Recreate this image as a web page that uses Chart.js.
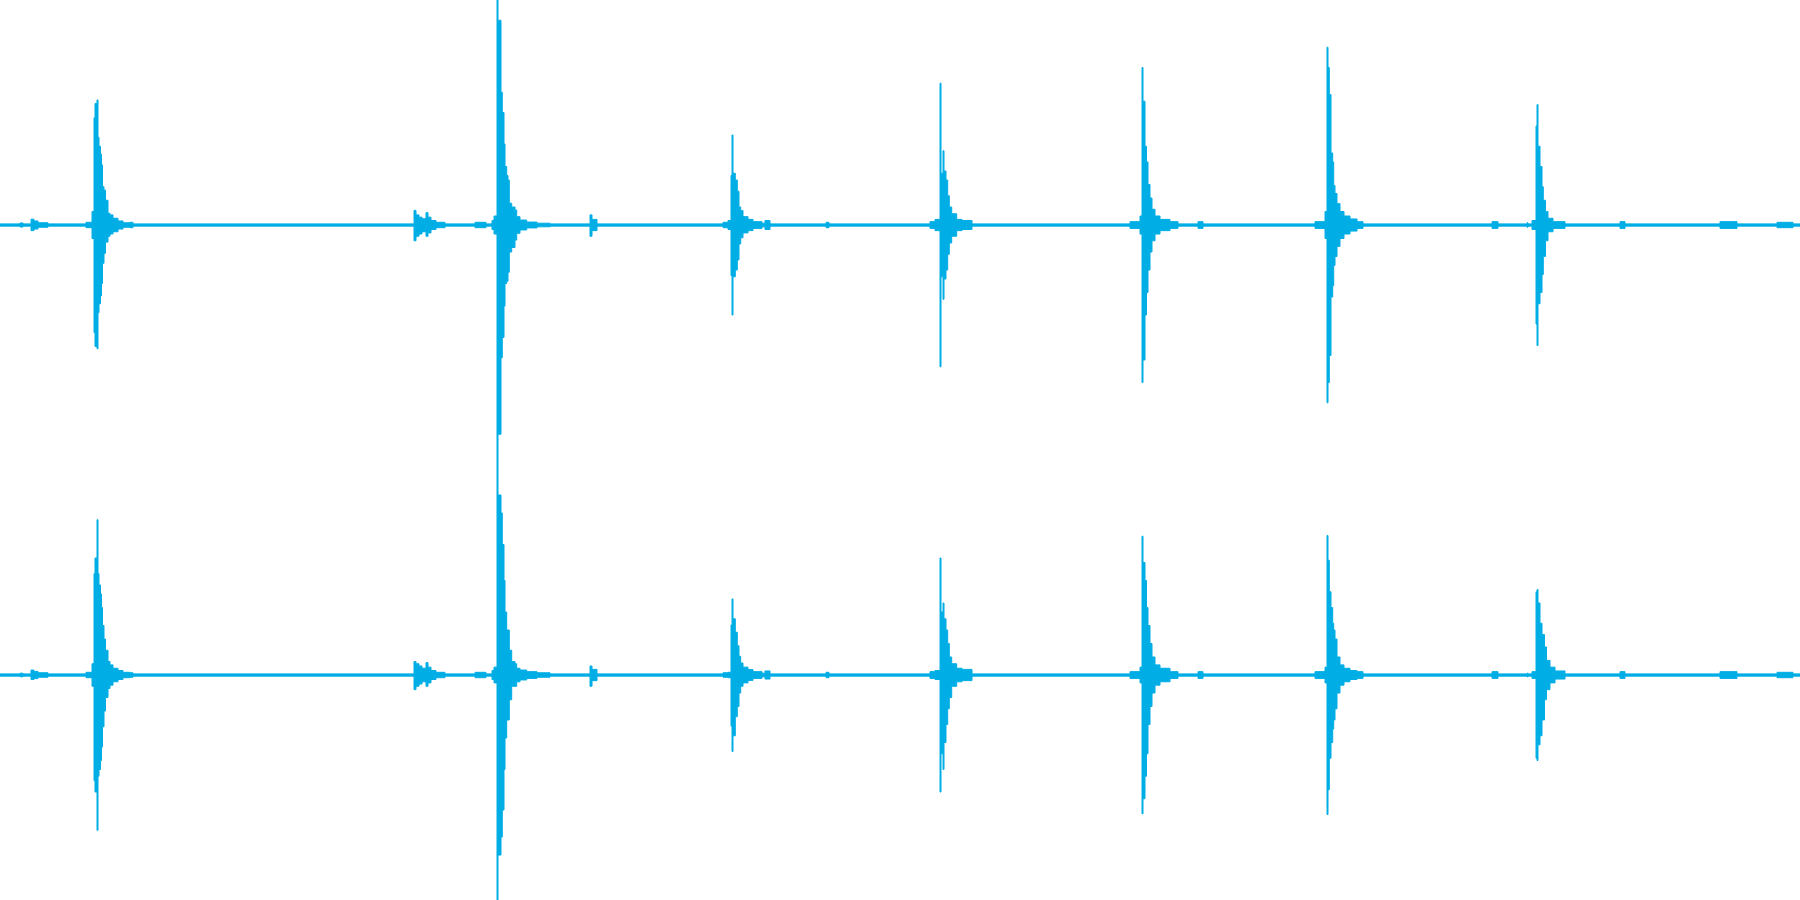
<!DOCTYPE html>
<html>
<head>
<meta charset="utf-8">
<script src="https://cdn.jsdelivr.net/npm/chart.js@4"></script>
<style>
  html, body { margin: 0; padding: 0; background: #ffffff; }
  .ch { position: absolute; left: 0; width: 1800px; height: 450px; }
  #wrapL { top: 0; }
  #wrapR { top: 450px; }
</style>
</head>
<body>
<div class="ch" id="wrapL"><canvas id="left" width="1800" height="450"></canvas></div>
<div class="ch" id="wrapR"><canvas id="right" width="1800" height="450"></canvas></div>
<script>
// Sample position (one unit per pixel column of the rendered waveform)
const position = [
  0, 20, 23, 31, 34, 38, 48,
  86, 92, 94, 95, 97, 98, 99, 100.5, 101.5, 102.5, 104, 105.5, 108, 110, 113, 118, 123, 130, 133,
  414, 416, 419, 422, 426, 428, 431, 436, 445, 475, 486,
  492, 494, 497, 498, 501, 502.3, 504, 505, 506.7, 508, 509.3, 511.7, 515, 516.7, 520, 526.7, 537, 550,
  590, 592, 597,
  723, 728, 731, 732, 733, 735.3, 737.3, 739, 740.7, 743, 748, 753, 762, 765, 770,
  826, 829,
  930, 935, 940, 941, 943, 944, 946, 947.7, 949.3, 951.7, 956.7, 962, 972,
  1130, 1140, 1142, 1143, 1145, 1146.5, 1148, 1150, 1152, 1155, 1160, 1170, 1178, 1198, 1203,
  1315, 1325, 1327, 1328, 1329.3, 1331, 1332.7, 1333.7, 1335, 1337, 1340, 1344, 1350, 1357, 1363,
  1492, 1498,
  1527, 1528, 1532, 1536, 1537, 1538, 1540, 1542, 1543.3, 1544.5, 1545.5, 1546.5, 1548, 1550, 1553, 1555, 1565,
  1620, 1625, 1720, 1737, 1777, 1793, 1800
];

// Channel 1 (top) envelope, peak amplitude per column
const leftMax = [
  0.005, 0.009, 0.005, 0.026, 0.018, 0.01, 0.005,
  0.012, 0.06, 0.476, 0.54, 0.556, 0.39, 0.35, 0.315, 0.267, 0.17, 0.155, 0.11, 0.052, 0.045, 0.03, 0.018, 0.01, 0.012, 0.005,
  0.065, 0.045, 0.035, 0.028, 0.055, 0.035, 0.02, 0.012, 0.005, 0.012, 0.005,
  0.02, 0.04, 1.0, 0.91, 0.59, 0.5, 0.36, 0.26, 0.22, 0.2, 0.097, 0.08, 0.067, 0.037, 0.022, 0.013, 0.008, 0.005,
  0.045, 0.025, 0.005,
  0.012, 0.02, 0.22, 0.4, 0.23, 0.2, 0.15, 0.08, 0.064, 0.037, 0.025, 0.015, 0.008, 0.02, 0.005,
  0.012, 0.005,
  0.015, 0.025, 0.63, 0.23, 0.33, 0.24, 0.2, 0.13, 0.08, 0.05, 0.025, 0.02, 0.005,
  0.015, 0.04, 0.7, 0.55, 0.35, 0.28, 0.18, 0.12, 0.07, 0.04, 0.025, 0.015, 0.005, 0.015, 0.005,
  0.015, 0.06, 0.79, 0.7, 0.58, 0.32, 0.28, 0.175, 0.14, 0.095, 0.06, 0.04, 0.027, 0.015, 0.005,
  0.015, 0.005,
  0.01, 0.005, 0.02, 0.44, 0.535, 0.35, 0.26, 0.17, 0.11, 0.11, 0.06, 0.06, 0.03, 0.03, 0.015, 0.015, 0.005,
  0.015, 0.005, 0.015, 0.005, 0.012, 0.005, 0.005
];
const leftMin = [
  -0.005, -0.009, -0.005, -0.025, -0.018, -0.01, -0.005,
  -0.012, -0.06, -0.478, -0.54, -0.55, -0.39, -0.35, -0.315, -0.26, -0.17, -0.126, -0.076, -0.05, -0.04, -0.03, -0.018, -0.01, -0.012, -0.005,
  -0.07, -0.05, -0.04, -0.03, -0.05, -0.035, -0.02, -0.012, -0.005, -0.012, -0.005,
  -0.02, -0.04, -1.0, -0.93, -0.59, -0.5, -0.36, -0.26, -0.25, -0.21, -0.12, -0.1, -0.067, -0.037, -0.022, -0.013, -0.008, -0.005,
  -0.05, -0.025, -0.005,
  -0.012, -0.02, -0.225, -0.4, -0.23, -0.2, -0.155, -0.084, -0.057, -0.035, -0.025, -0.015, -0.008, -0.02, -0.005,
  -0.012, -0.005,
  -0.015, -0.025, -0.63, -0.23, -0.33, -0.24, -0.2, -0.13, -0.08, -0.05, -0.025, -0.02, -0.005,
  -0.015, -0.04, -0.7, -0.6, -0.4, -0.3, -0.2, -0.12, -0.07, -0.04, -0.025, -0.015, -0.005, -0.015, -0.005,
  -0.015, -0.06, -0.79, -0.7, -0.58, -0.32, -0.27, -0.18, -0.14, -0.095, -0.06, -0.04, -0.027, -0.015, -0.005,
  -0.015, -0.005,
  -0.01, -0.005, -0.02, -0.44, -0.536, -0.35, -0.3, -0.22, -0.14, -0.14, -0.07, -0.07, -0.03, -0.03, -0.015, -0.015, -0.005,
  -0.015, -0.005, -0.015, -0.005, -0.012, -0.005, -0.005
];

// Channel 2 (bottom) envelope
const rightMax = [
  0.005, 0.008, 0.005, 0.022, 0.016, 0.01, 0.005,
  0.012, 0.05, 0.45, 0.52, 0.69, 0.45, 0.4, 0.36, 0.3, 0.22, 0.16, 0.11, 0.06, 0.045, 0.03, 0.02, 0.012, 0.01, 0.005,
  0.06, 0.05, 0.04, 0.03, 0.055, 0.035, 0.02, 0.012, 0.005, 0.012, 0.005,
  0.02, 0.035, 1.0, 0.8, 0.72, 0.58, 0.42, 0.28, 0.2, 0.2, 0.11, 0.06, 0.05, 0.03, 0.022, 0.015, 0.01, 0.005,
  0.04, 0.025, 0.005,
  0.01, 0.012, 0.222, 0.338, 0.25, 0.19, 0.13, 0.083, 0.053, 0.035, 0.024, 0.015, 0.008, 0.018, 0.005,
  0.012, 0.005,
  0.015, 0.02, 0.52, 0.28, 0.32, 0.25, 0.2, 0.14, 0.08, 0.05, 0.03, 0.025, 0.005,
  0.015, 0.035, 0.617, 0.5, 0.42, 0.3, 0.22, 0.14, 0.08, 0.045, 0.03, 0.015, 0.005, 0.015, 0.005,
  0.015, 0.035, 0.62, 0.51, 0.37, 0.3, 0.23, 0.2, 0.16, 0.08, 0.045, 0.03, 0.02, 0.015, 0.005,
  0.015, 0.005,
  0.008, 0.005, 0.015, 0.37, 0.38, 0.32, 0.23, 0.18, 0.18, 0.125, 0.125, 0.065, 0.065, 0.035, 0.035, 0.018, 0.005,
  0.015, 0.005, 0.015, 0.005, 0.012, 0.005, 0.005
];
const rightMin = [
  -0.005, -0.008, -0.005, -0.02, -0.016, -0.01, -0.005,
  -0.012, -0.05, -0.47, -0.52, -0.69, -0.45, -0.42, -0.38, -0.32, -0.23, -0.16, -0.1, -0.06, -0.045, -0.03, -0.02, -0.012, -0.01, -0.005,
  -0.065, -0.05, -0.04, -0.03, -0.05, -0.035, -0.02, -0.012, -0.005, -0.012, -0.005,
  -0.02, -0.035, -1.0, -0.8, -0.72, -0.6, -0.42, -0.28, -0.2, -0.2, -0.11, -0.05, -0.05, -0.03, -0.022, -0.015, -0.01, -0.005,
  -0.05, -0.025, -0.005,
  -0.01, -0.012, -0.227, -0.34, -0.27, -0.185, -0.14, -0.08, -0.05, -0.035, -0.024, -0.015, -0.008, -0.018, -0.005,
  -0.012, -0.005,
  -0.015, -0.02, -0.52, -0.35, -0.42, -0.3, -0.22, -0.15, -0.1, -0.05, -0.03, -0.025, -0.005,
  -0.015, -0.035, -0.617, -0.55, -0.45, -0.35, -0.22, -0.14, -0.08, -0.045, -0.03, -0.015, -0.005, -0.015, -0.005,
  -0.015, -0.035, -0.62, -0.51, -0.37, -0.3, -0.24, -0.2, -0.15, -0.08, -0.045, -0.03, -0.02, -0.015, -0.005,
  -0.015, -0.005,
  -0.008, -0.005, -0.015, -0.37, -0.38, -0.31, -0.27, -0.2, -0.2, -0.11, -0.11, -0.065, -0.065, -0.035, -0.035, -0.018, -0.005,
  -0.015, -0.005, -0.015, -0.005, -0.012, -0.005, -0.005
];

const WAVE_COLOR = 'rgb(0,174,229)';

function toPoints(xs, ys) {
  return xs.map((x, i) => ({ x: x, y: ys[i] }));
}

function makeChart(id, hi, lo) {
  const ctx = document.getElementById(id);
  return new Chart(ctx, {
    type: 'line',
    data: {
      datasets: [
        {
          data: toPoints(position, hi),
          borderColor: WAVE_COLOR,
          backgroundColor: WAVE_COLOR,
          borderWidth: 1,
          pointRadius: 0,
          stepped: 'before',
          fill: '+1'
        },
        {
          data: toPoints(position, lo),
          borderColor: WAVE_COLOR,
          backgroundColor: WAVE_COLOR,
          borderWidth: 1,
          pointRadius: 0,
          stepped: 'before',
          fill: false
        }
      ]
    },
    options: {
      responsive: false,
      animation: false,
      layout: { padding: 0 },
      plugins: { legend: { display: false }, tooltip: { enabled: false } },
      scales: {
        x: { type: 'linear', min: 0, max: 1800, display: false },
        y: { min: -1, max: 1, display: false }
      }
    }
  });
}

makeChart('left', leftMax, leftMin);
makeChart('right', rightMax, rightMin);
</script>
</body>
</html>
